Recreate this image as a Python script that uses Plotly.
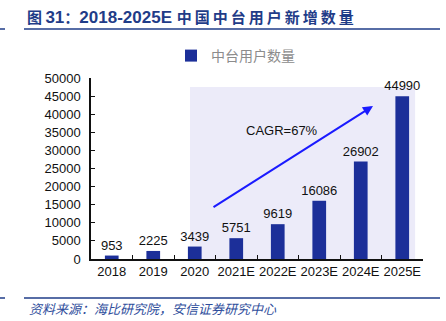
import plotly.graph_objects as go

# 中台用户新增数量 (2018-2025E)
years = ["2018", "2019", "2020", "2021E", "2022E", "2023E", "2024E", "2025E"]
new_users = [953, 2225, 3439, 5751, 9619, 16086, 26902, 44990]
y_ticks = [0, 5000, 10000, 15000, 20000, 25000, 30000, 35000, 40000, 45000, 50000]

BAR = "#1c2f99"
NAVY = "#1f3c88"
FONT = "Liberation Sans, Arial, sans-serif"
CJK = "Noto Sans CJK SC"

W, H = 446, 321
L, R, T, B = 91, 23, 78, 62


def px_x(p):
    return (p - L) / (W - L - R)


def px_y(p):
    return (H - B - p) / (H - T - B)


fig = go.Figure()
fig.add_trace(go.Bar(
    x=years, y=new_users, name="中台用户数量",
    marker=dict(color=BAR, line=dict(width=0)),
    width=0.33,
    text=[str(v) for v in new_users], textposition="outside",
    textfont=dict(family=FONT, size=13, color="#111111"),
    constraintext="none",
    cliponaxis=False,
))

# forecast window background
fig.add_shape(type="rect", xref="x", yref="y", x0=1.886, x1=7.31, y0=0, y1=47500,
              fillcolor="#ecebf9", line=dict(width=0), layer="below")

# growth arrow and CAGR note
fig.add_annotation(x=6.295, y=42265, ax=2.416, ay=14088, xref="x", yref="y",
                   axref="x", ayref="y", showarrow=True, arrowhead=2, arrowsize=1,
                   arrowwidth=2, arrowcolor="#1a1aff", text="")
fig.add_annotation(x=4.10, y=35635, xref="x", yref="y", text="CAGR=67%", showarrow=False,
                   font=dict(family=FONT, size=13, color="#111111"))

# header and footer
TS = "\u2009"
cjk_title = TS.join("中国中台用户新增数量")
title_html = ("<b><span style='font-family:Noto Sans CJK SC;font-size:15px'>图 </span>31"
              "<span style='font-family:Noto Sans CJK SC;font-size:15px'>：</span>2018-2025E "
              f"<span style='font-family:Noto Sans CJK SC;font-size:15px'>{cjk_title}</span></b>")
fig.add_annotation(x=px_x(25), y=px_y(16), xref="paper", yref="paper", text=title_html,
                   showarrow=False, xanchor="left", yanchor="middle",
                   font=dict(family=FONT, size=17, color=NAVY))
fig.add_annotation(x=px_x(27), y=px_y(308), xref="paper", yref="paper",
                   text="<i>资料来源：海比研究院，安信证券研究中心</i>",
                   showarrow=False, xanchor="left", yanchor="middle",
                   font=dict(family=CJK, size=13, color="#2f4e9c"))

for yy in (29, 298):
    fig.add_shape(type="line", xref="paper", yref="paper", x0=px_x(24), x1=px_x(440),
                  y0=px_y(yy), y1=px_y(yy), line=dict(color=NAVY, width=1.5))
    fig.add_shape(type="line", xref="paper", yref="paper", x0=px_x(0), x1=px_x(5),
                  y0=px_y(yy), y1=px_y(yy), line=dict(color=NAVY, width=1.5))

fig.update_layout(
    width=W, height=H,
    margin=dict(l=L, r=R, t=T, b=B, autoexpand=False),
    paper_bgcolor="white", plot_bgcolor="white",
    showlegend=True,
    legend=dict(orientation="h", x=px_x(171), y=px_y(56), xanchor="left", yanchor="middle",
                font=dict(family=CJK, size=14, color="#8c8c8c"), bgcolor="rgba(0,0,0,0)"),
    font=dict(family=FONT, size=13, color="#111111"),
)
fig.update_xaxes(type="category", range=[-0.5, 7.5], showline=True, linecolor="#111111",
                 linewidth=1.5, ticks="inside", ticklen=4, tickcolor="#111111",
                 tickson="boundaries", showgrid=False, zeroline=False, tickangle=0,
                 tickfont=dict(family=FONT, size=13, color="#111111"))
fig.update_yaxes(range=[0, 50000], tickvals=y_ticks, ticktext=[str(v) for v in y_ticks],
                 showline=True, linecolor="#111111",
                 linewidth=1.5, ticks="inside", ticklen=4, tickcolor="#111111",
                 showgrid=False, zeroline=False, ticklabelstandoff=6,
                 tickfont=dict(family=FONT, size=13, color="#111111"))

fig.write_html("out.html")
